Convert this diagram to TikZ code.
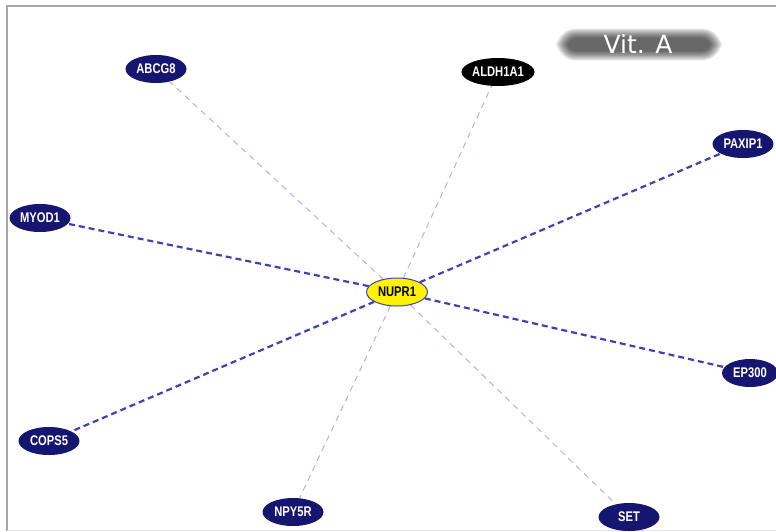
\documentclass[tikz,border=0pt]{standalone}
\usepackage{fontspec}
\newfontfamily\genefont{Liberation Sans}[FakeStretch=0.8]
\newfontfamily\tagfont{DejaVu Sans}
\usetikzlibrary{shapes.geometric,backgrounds}

\definecolor{genefill}{RGB}{22,22,112}
\definecolor{strong}{RGB}{64,64,180}
\definecolor{weak}{RGB}{178,178,228}

\begin{document}
\begin{tikzpicture}
[
x=1pt, y=-1pt,
every node/.style={ellipse, fill=genefill, text=white, inner sep=0pt,
  minimum width=61pt, minimum height=28pt, font=\genefont\bfseries\fontsize{14}{15}\selectfont},
hub/.style={fill=yellow, draw=strong, line width=1pt, text=black},
hidden/.style={fill=black},
strongedge/.style={draw=strong, line width=2.2pt, dash pattern=on 6pt off 4pt},
weakedge/.style={draw=weak, line width=1pt, dash pattern=on 6pt off 5pt}
]
\useasboundingbox (0,0) rectangle (776,531);
\clip (0,0) rectangle (776,531);

% frame
\draw[gray!70, line width=1.2pt] (7,531) -- (7,6) -- (776,6);
\draw[gray!20] (7,530) -- (776,530);

% Vit. A tag, soft gray bar
\foreach \g in {0,1,...,12}
  \fill[black, opacity=0.065, rounded corners=8pt+\g pt]
    (568-\g,38-\g*0.8) rectangle (710+\g,51+\g*0.8);
\node[fill=none, rectangle, font=\tagfont\fontsize{25}{26}\selectfont] (vita) at (638,44) {Vit. A};

\node[hub] (nupr) at (397,292) {NUPR1};
\node (abcg) at (156,69) {ABCG8};
\node[hidden] (aldh) at (498,72) {ALDH1A1};
\node (paxip) at (743,144) {PAXIP1};
\node (myod) at (40,218) {MYOD1};
\node[minimum width=56pt] (ep) at (750,373) {EP300};
\node (cops) at (49,441) {COPS5};
\node (npy) at (293,512) {NPY5R};
\node (set) at (629,517) {SET};

\begin{pgfonlayer}{background}
\foreach \t in {abcg, aldh, npy, set}
  \draw[weakedge] (nupr) -- (\t);
\foreach \t in {paxip, myod, ep, cops}
  \draw[strongedge] (nupr) -- (\t);
\end{pgfonlayer}
\end{tikzpicture}
\end{document}
